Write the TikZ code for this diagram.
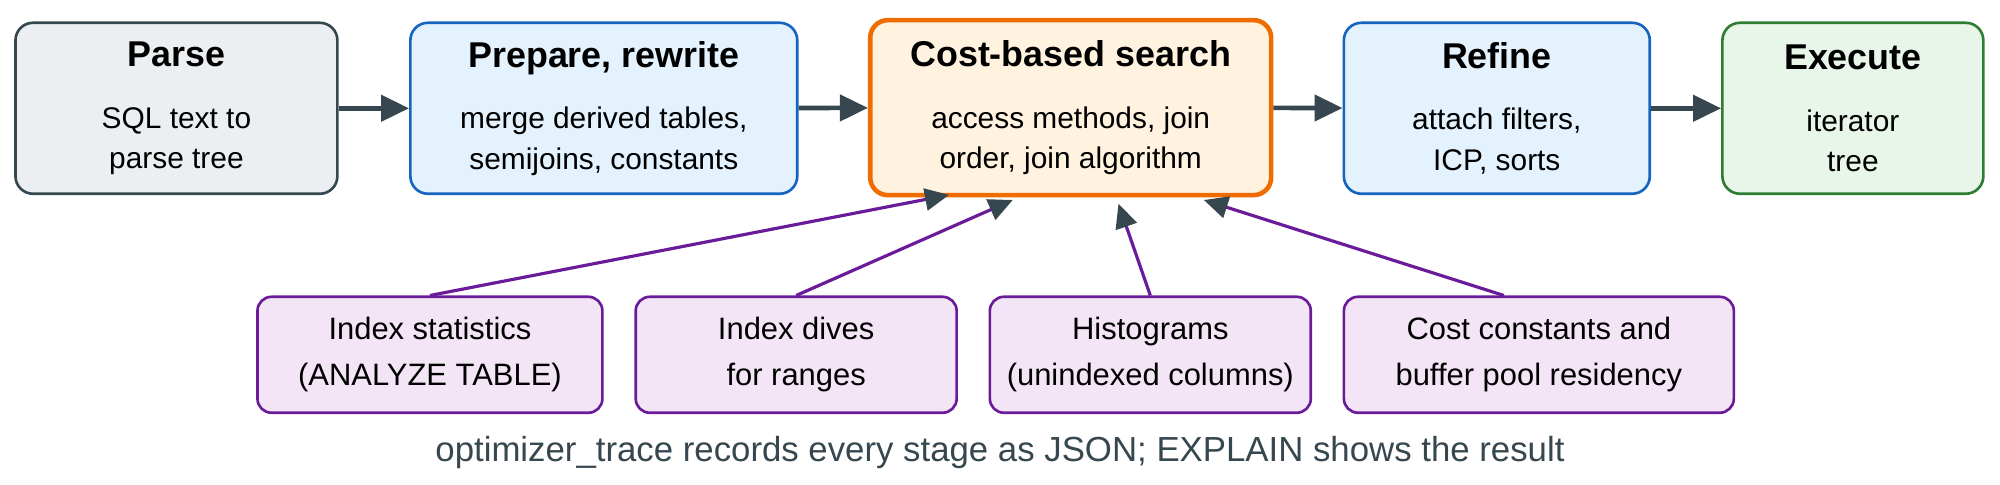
\documentclass[tikz,border=0pt]{standalone}
\usepackage{fontspec}
\setmainfont{Liberation Sans}
\usetikzlibrary{arrows.meta,positioning,calc}
\definecolor{ink}{HTML}{37474F}
\definecolor{parsefill}{HTML}{ECEFF1}
\definecolor{bluefill}{HTML}{E3F2FD}
\definecolor{blueline}{HTML}{1565C0}
\definecolor{costfill}{HTML}{FFF3E0}
\definecolor{costline}{HTML}{EF6C00}
\definecolor{greenfill}{HTML}{E8F5E9}
\definecolor{greenline}{HTML}{2E7D32}
\definecolor{srcfill}{HTML}{F3E5F5}
\definecolor{srcline}{HTML}{6A1B9A}

\begin{document}
\begin{tikzpicture}[
    x=0.01274cm, y=-0.01274cm,
    font=\fontsize{8.5}{11.5}\selectfont,
    % --- node styles ---
    stage/.style = {rectangle, draw=ink, line width=0.75pt,
                    rounded corners=5pt, align=center,
                    minimum height=1.71cm, inner sep=2pt},
    source/.style = {rectangle, draw=srcline, fill=srcfill, line width=0.75pt,
                     rounded corners=4pt, align=center,
                     minimum height=1.16cm, inner sep=2pt,
                     font=\fontsize{8.8}{13}\selectfont},
    flow/.style  = {-{Triangle[length=0.28cm,width=0.26cm]}, draw=ink, line width=1.3pt},
    feed/.style  = {-{Triangle[length=0.24cm,width=0.22cm,color=ink]}, draw=srcline, line width=0.9pt},
]
\useasboundingbox (0,0) rectangle (1570,380);

%============ PIPELINE ============
\node (parse) [stage, fill=parsefill, minimum width=3.22cm] at (138.5,85)
  {{\fontsize{10.2}{12}\selectfont\bfseries Parse}\\[6pt]SQL text to\\parse tree};
\node (prep) [stage, fill=bluefill, draw=blueline, minimum width=3.87cm] at (474,85)
  {{\fontsize{10.2}{12}\selectfont\bfseries Prepare, rewrite}\\[6pt]merge derived tables,\\semijoins, constants};
\node (cost) [stage, fill=costfill, draw=costline, line width=1.3pt,
              minimum width=4.01cm, minimum height=1.75cm] at (840.5,84.5)
  {{\fontsize{10.2}{12}\selectfont\bfseries Cost-based search}\\[6pt]access methods, join\\order, join algorithm};
\node (refine) [stage, fill=bluefill, draw=blueline, minimum width=3.06cm] at (1175,85)
  {{\fontsize{10.2}{12}\selectfont\bfseries Refine}\\[6pt]attach filters,\\ICP, sorts};
\node (exec) [stage, fill=greenfill, draw=greenline, minimum width=2.61cm] at (1454.5,85)
  {{\fontsize{10.2}{12}\selectfont\bfseries Execute}\\[6pt]iterator\\tree};

\foreach \a/\b in {parse/prep, prep/cost, cost/refine, refine/exec}
  \draw[flow] (\a) -- (\b);

%============ COST INPUTS ============
\node (stats) [source, minimum width=3.45cm] at (337.5,278.5)
  {Index statistics\\(ANALYZE TABLE)};
\node (dives) [source, minimum width=3.21cm] at (625,278.5)
  {Index dives\\for ranges};
\node (histo) [source, minimum width=3.21cm] at (903,278.5)
  {Histograms\\(unindexed columns)};
\node (consts) [source, minimum width=3.9cm] at (1208,278.5)
  {Cost constants and\\buffer pool residency};

\coordinate (in1) at (745,153);
\coordinate (in2) at (795,157);
\coordinate (in3) at (878,160);
\coordinate (in4) at (945,157);

\draw[feed] (stats.north) -- (in1);
\draw[feed] (dives.north) -- (in2);
\draw[feed] (histo.north) -- (in3);
\draw[feed] ([xshift=-0.35cm]consts.north) -- (in4);

\node (note) [text=ink, font=\fontsize{9.9}{12}\selectfont] at (785,355)
  {optimizer\_trace records every stage as JSON; EXPLAIN shows the result};

\end{tikzpicture}
\end{document}
